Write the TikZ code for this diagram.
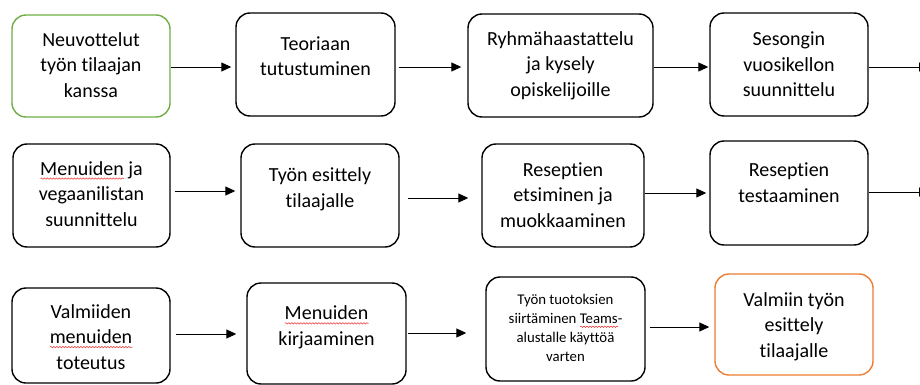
\documentclass[tikz,border=0pt]{standalone}
\usepackage{fontspec}
\setmainfont{Carlito}[Ligatures=NoCommon]
\usetikzlibrary{arrows.meta,decorations.pathmorphing}
\definecolor{boxgreen}{HTML}{70AD47}
\definecolor{boxorange}{HTML}{ED7D31}
\definecolor{spellred}{HTML}{F03030}
\newlength\spellw
\newcommand\spellwave[1]{\settowidth\spellw{#1}\leavevmode\rlap{\tikz[baseline=0pt,x=1pt,y=1pt]\draw[spellred,line width=0.5pt,sharp corners,decorate,decoration={snake,amplitude=0.7pt,segment length=3pt}] (0,-3.5) -- (\spellw,-3.5);}#1}
\newcommand\boxtext[2]{\raisebox{#1}[\height][\depth]{\begin{tabular}{@{}c@{}}#2\end{tabular}}}
\begin{document}
\begin{tikzpicture}[x=1pt,y=-1pt,
  stepbox/.style={draw=black, line width=1.4pt, rounded corners=14pt, inner sep=0pt,
    font=\fontsize{20}{25.5}\selectfont},
  greenbox/.style={stepbox, draw=boxgreen},
  orangebox/.style={stepbox, draw=boxorange},
  smalltext/.style={font=\fontsize{14.8}{19}\selectfont},
  sz/.style 2 args={minimum width=#1, minimum height=#2},
  arr/.style={-{Triangle[length=10pt,width=9pt]}, line width=0.9pt}]
\useasboundingbox (0,0) rectangle (920,385);
\clip (0,0) rectangle (920,385);

% row 1
\node[greenbox, sz={158pt}{102pt}] (A) at (91,66) {\boxtext{-0.7pt}{Neuvottelut\\työn tilaajan\\kanssa}};
\node[stepbox, sz={159pt}{103pt}] (B) at (315.5,64.5) {\boxtext{6.5pt}{Teoriaan\\tutustuminen}};
\node[stepbox, sz={185pt}{103pt}] (C) at (560.5,65.5) {\boxtext{0pt}{Ryhmähaastattelu\\ja kysely\\opiskelijoille}};
\node[stepbox, sz={158pt}{103pt}] (D) at (789,64.5) {\boxtext{-1.5pt}{Sesongin\\vuosikellon\\suunnittelu}};
\coordinate (Dout) at (929,67);

% row 2
\node[stepbox, sz={157pt}{103pt}] (E) at (91.5,195.5) {\boxtext{0pt}{\spellwave{Menuiden} ja\\vegaanilistan\\suunnittelu}};
\node[stepbox, sz={158pt}{103pt}] (F) at (320,195.5) {\boxtext{6pt}{Työn esittely\\tilaajalle}};
\node[stepbox, sz={162pt}{103pt}] (G) at (563,195.5) {\boxtext{-1pt}{Reseptien\\etsiminen ja\\muokkaaminen}};
\node[stepbox, sz={158pt}{104pt}] (H) at (789,193) {\boxtext{8.5pt}{Reseptien\\testaaminen}};
\coordinate (Hout) at (929,192);

% row 3
\node[stepbox, sz={158pt}{95pt}] (I) at (91,335.5) {\boxtext{-3pt}{Valmiiden\\\spellwave{menuiden}\\toteutus}};
\node[stepbox, sz={159pt}{101pt}] (J) at (326.5,333.5) {\boxtext{6pt}{\spellwave{Menuiden}\\kirjaaminen}};
\node[stepbox, smalltext, sz={159pt}{104pt}] (K) at (565.5,329) {\boxtext{0pt}{Työn tuotoksien\\siirtäminen \spellwave{Teams}-\\alustalle käyttöä\\varten}};
\node[orangebox, sz={158pt}{101pt}] (L) at (794,324.5) {\boxtext{-2pt}{Valmiin työn\\esittely\\tilaajalle}};

% arrows row 1
\draw[arr] ([yshift=-1pt]A.east) -- ([xshift=-4pt,yshift=-2.5pt]B.west);
\draw[arr] ([xshift=3pt,yshift=-2.5pt]B.east) -- ([xshift=-6pt,yshift=-1.5pt]C.west);
\draw[arr] ([yshift=-1.5pt]C.east) -- ([xshift=-1pt,yshift=-2.5pt]D.west);
\draw[arr] ([yshift=-2.5pt]D.east) -- (Dout);

% arrows row 2
\draw[arr] ([xshift=4pt,yshift=4.5pt]E.east) -- ([xshift=-5pt,yshift=4.5pt]F.west);
\draw[arr] ([xshift=8pt,yshift=-2.5pt]F.east) -- ([xshift=-13pt,yshift=-2.5pt]G.west);
\draw[arr] ([yshift=2.5pt]G.east) -- ([xshift=-3pt]H.west);
\draw[arr] ([yshift=1pt]H.east) -- (Hout);

% arrows row 3
\draw[arr] ([xshift=5pt,yshift=1.5pt]I.east) -- ([xshift=-10pt,yshift=-0.5pt]J.west);
\draw[arr] ([xshift=1pt,yshift=0.5pt]J.east) -- ([xshift=-19pt,yshift=-4pt]K.west);
\draw[arr] ([xshift=4pt,yshift=2pt]K.east) -- ([xshift=-5pt,yshift=-2.5pt]L.west);
\end{tikzpicture}
\end{document}
